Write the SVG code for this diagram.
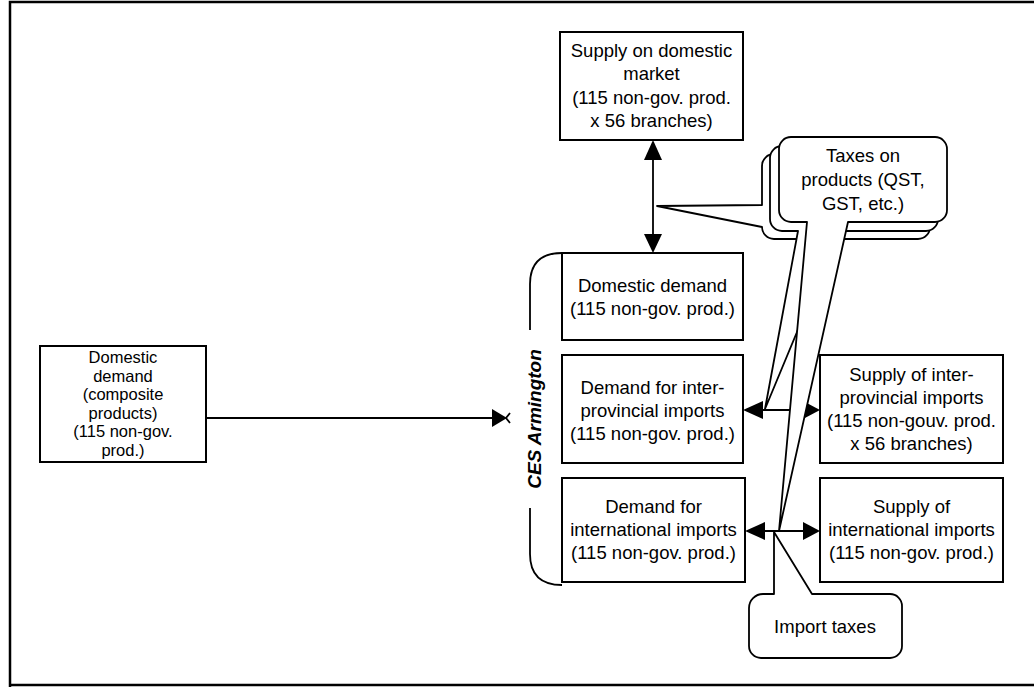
<svg xmlns="http://www.w3.org/2000/svg" width="1034" height="687" viewBox="0 0 1034 687">
<style>
.box{fill:#fff;stroke:#000;stroke-width:2}
.call{fill:#fff;stroke:#000;stroke-width:1.8;stroke-linejoin:round}
.ln{fill:none;stroke:#000;stroke-width:1.8}
.hd{fill:#000;stroke:none}
text{font-family:"Liberation Sans",Arial,sans-serif;font-size:18.5px;fill:#000;text-anchor:middle}
.sm{font-size:16.5px}
.ces{font-weight:bold;font-style:italic;font-size:19px}
</style>
<rect x="0" y="0" width="1034" height="687" fill="#fff"/>
<path d="M10,687 V2 H1040" fill="none" stroke="#000" stroke-width="2.5"/>
<path d="M9,685 H1040" fill="none" stroke="#000" stroke-width="2.5"/>

<g id="connectors">
  <line class="ln" x1="653" y1="158" x2="653" y2="236"/>
  <polygon class="hd" points="653,140 644,160 662,160"/>
  <polygon class="hd" points="653,253 644,234 662,234"/>
  <line class="ln" x1="206" y1="418" x2="494" y2="418"/>
  <polygon class="hd" points="507,418 492,409 492,427"/>
  <path class="ln" d="M510,413 L506,418 L510,423" stroke-width="1.4"/>
  <line class="ln" x1="760" y1="410" x2="805" y2="410"/>
  <polygon class="hd" points="743,410 763,401 763,419"/>
  <polygon class="hd" points="820,410 803,401 803,419"/>
  <line class="ln" x1="762" y1="531" x2="805" y2="531"/>
  <polygon class="hd" points="745,531 765,522 765,540"/>
  <polygon class="hd" points="820,531 803,522 803,540"/>
  <path class="ln" d="M530,330 V284 Q530,253 562,253"/>
  <path class="ln" d="M530,508 V554 Q530,585 562,585"/>
</g>

<g id="ces-label">
  <text class="ces" transform="translate(541,419) rotate(-90)">CES Armington</text>
</g>

<g id="n-supply-domestic">
  <rect class="box" x="560" y="32" width="183" height="108"/>
  <text x="651.5" y="57">Supply on domestic</text>
  <text x="651.5" y="80">market</text>
  <text x="651.5" y="104">(115 non-gov. prod.</text>
  <text x="651.5" y="127">x 56 branches)</text>
</g>

<g id="n-domestic-demand">
  <rect class="box" x="562" y="253" width="181" height="87"/>
  <text x="652.5" y="292">Domestic demand</text>
  <text x="652.5" y="315">(115 non-gov. prod.)</text>
</g>

<g id="n-interprov-demand">
  <rect class="box" x="562" y="355" width="181" height="108"/>
  <text x="652.5" y="394">Demand for inter-</text>
  <text x="652.5" y="417">provincial imports</text>
  <text x="652.5" y="440">(115 non-gov. prod.)</text>
</g>

<g id="n-intl-demand">
  <rect class="box" x="562" y="478" width="183" height="104"/>
  <text x="653.5" y="513">Demand for</text>
  <text x="653.5" y="536">international imports</text>
  <text x="653.5" y="559">(115 non-gov. prod.)</text>
</g>

<g id="n-interprov-supply">
  <rect class="box" x="820" y="355" width="183" height="108"/>
  <text x="911.5" y="381">Supply of inter-</text>
  <text x="911.5" y="404">provincial imports</text>
  <text x="911.5" y="427">(115 non-gouv. prod.</text>
  <text x="911.5" y="450">x 56 branches)</text>
</g>

<g id="n-intl-supply">
  <rect class="box" x="820" y="478" width="183" height="104"/>
  <text x="911.5" y="513">Supply of</text>
  <text x="911.5" y="536">international imports</text>
  <text x="911.5" y="559">(115 non-gov. prod.)</text>
</g>

<g id="n-composite-demand">
  <rect class="box" x="40" y="346" width="166" height="116"/>
  <text class="sm" x="123" y="363">Domestic</text>
  <text class="sm" x="123" y="381.6">demand</text>
  <text class="sm" x="123" y="400.2">(composite</text>
  <text class="sm" x="123" y="418.8">products)</text>
  <text class="sm" x="123" y="437.4">(115 non-gov.</text>
  <text class="sm" x="123" y="456">prod.)</text>
</g>

<g id="n-product-taxes">
  <path class="call" d="M774,154 H918 A12,12 0 0 1 930,166 V227 A12,12 0 0 1 918,239 H774 A12,12 0 0 1 762,227 L657,206 L762,205 V166 A12,12 0 0 1 774,154 Z"/>
  <path class="call" d="M782,146 H926 A12,12 0 0 1 938,158 V219 A12,12 0 0 1 926,231 H839 L765,409 L798,231 H782 A12,12 0 0 1 770,219 V158 A12,12 0 0 1 782,146 Z"/>
  <path class="call" d="M791,137 H935 A12,12 0 0 1 947,149 V210 A12,12 0 0 1 935,222 H848 L779,531 L807,222 H791 A12,12 0 0 1 779,210 V149 A12,12 0 0 1 791,137 Z"/>
  <text x="863" y="162">Taxes on</text>
  <text x="863" y="186">products (QST,</text>
  <text x="863" y="210">GST, etc.)</text>
</g>

<g id="n-import-taxes">
  <path class="call" d="M774,532 L812,594 H890 A12,12 0 0 1 902,606 V646 A12,12 0 0 1 890,658 H761 A12,12 0 0 1 749,646 V608 A14,14 0 0 1 763,594 H774 Z"/>
  <text x="825" y="633">Import taxes</text>
</g>
</svg>
